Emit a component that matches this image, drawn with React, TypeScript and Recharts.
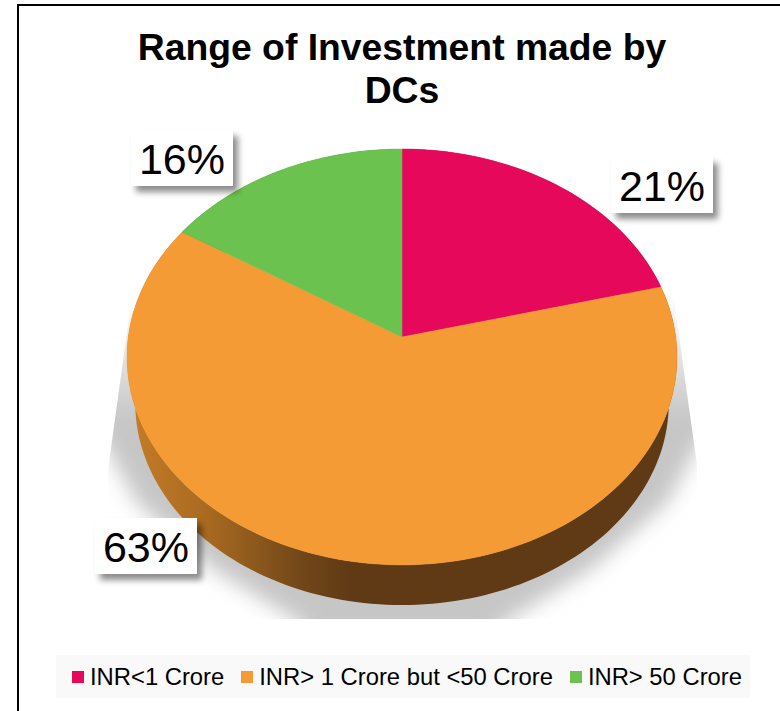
import React from "react";
import {Cell, Legend, Pie, PieChart} from "recharts";

const categories = ["INR<1 Crore", "INR> 1 Crore but <50 Crore", "INR> 50 Crore"];
const shares = [21, 63, 16];
const colors = ["#E6095B", "#F59B35", "#6BC24E"];
const wallColors = ["#8a0537", "url(#wallGradient)", "#40752f"];
// label box centres, placed by hand in the original chart
const labelCentres = [[662, 185], [146, 546], [182, 158]];

const tableData = categories.map((name, i) => ({name, value: shares[i]}));

const WIDTH = 780;
const HEIGHT = 711;
const CX = 402;
const CY = 337;

// tilt projection of the round pie: the centre sits above the middle of the ellipse
const project = (angle: number, scale = 1, dy = 0) => {
  const rad = ((90 - angle) * Math.PI) / 180;
  const X = Math.sin(rad);
  const Y = -Math.cos(rad);
  const w = 1 - 0.096 * Y;
  return [CX + (273.7 * scale * X) / w, CY + dy + (206 * scale * Y) / w];
};

const arcPoints = (start: number, end: number, scale = 1, dy = 0) => {
  const steps = Math.max(2, Math.ceil(Math.abs(end - start) / 1.5));
  const pts: number[][] = [];
  for (let i = 0; i <= steps; i++) {
    pts.push(project(start + ((end - start) * i) / steps, scale, dy));
  }
  return pts;
};

const toPath = (pts: number[][]) =>
  pts.map((p, i) => `${i === 0 ? "M" : "L"}${p[0].toFixed(2)},${p[1].toFixed(2)}`).join(" ") + " Z";

const TopSlice = (props: any) => {
  const pts = [[CX, CY], ...arcPoints(props.startAngle, props.endAngle)];
  return <path d={toPath(pts)} fill={props.fill} stroke={props.fill} strokeWidth={0.5}/>;
};

const WallSlice = (props: any) => {
  const top = arcPoints(props.startAngle, props.endAngle);
  const bottom = arcPoints(props.startAngle, props.endAngle, 0.97, 47).reverse();
  return <path d={toPath([...top, ...bottom])} fill={props.fill}/>;
};

const renderLabel = (props: any) => {
  const [x, y] = labelCentres[props.index];
  return (
    <g>
      <rect x={x - 51} y={y - 28} width={102} height={56} fill="#fff" filter="url(#boxShadow)"/>
      <text x={x} y={y + 16} textAnchor="middle" fontSize={43} fill="#000" fontFamily="Liberation Sans">
        {shares[props.index]}%
      </text>
    </g>
  );
};

const renderLegend = (props: any) => (
  <div style={{
    display: "flex", alignItems: "center", height: 43, paddingLeft: 16, background: "#f9f9f9",
    fontFamily: "Liberation Sans", fontSize: 23.8, color: "#000", whiteSpace: "nowrap",
  }}>
    {(props.payload || []).filter((item: any) => item.type !== "none").map((item: any) => (
      <span key={item.value} style={{display: "flex", alignItems: "center", marginRight: 17}}>
        <span style={{width: 12, height: 12, marginRight: 6, background: item.color}}/>
        {item.value}
      </span>
    ))}
  </div>
);

export default function App() {
  return (
    <div style={{position: "absolute", left: 0, top: 0, width: WIDTH, height: HEIGHT, overflow: "hidden", background: "#fff"}}>
      <PieChart width={WIDTH} height={HEIGHT} margin={{top: 0, right: 0, bottom: 0, left: 0}}>
        <defs>
          <linearGradient id="wallGradient" gradientUnits="userSpaceOnUse" x1={130} y1={0} x2={350} y2={0}>
            <stop offset="0%" stopColor="#c47c28"/>
            <stop offset="35%" stopColor="#a96a20"/>
            <stop offset="75%" stopColor="#754919"/>
            <stop offset="100%" stopColor="#5f3a14"/>
          </linearGradient>
          <linearGradient id="groundFill" gradientUnits="userSpaceOnUse" x1={0} y1={295} x2={0} y2={420}>
            <stop offset="0%" stopColor="#ffffff"/>
            <stop offset="100%" stopColor="#c6c6c6"/>
          </linearGradient>
          <filter id="boxShadow" x="-20%" y="-30%" width="150%" height="170%">
            <feDropShadow dx={5} dy={6} stdDeviation={3} floodColor="#000" floodOpacity={0.45}/>
          </filter>
          <filter id="groundBlur" x="-15%" y="-15%" width="130%" height="130%">
            <feGaussianBlur stdDeviation={10}/>
          </filter>
          <clipPath id="groundClip">
            <polygon points="130,310 108,470 108,619 697,619 697,465 673,293"/>
          </clipPath>
        </defs>
        <rect x={18} y={5} width={900} height={900} fill="none" stroke="#000" strokeWidth={2}/>
        <text x={402} y={60} textAnchor="middle" fontSize={37.3} fontWeight="bold" fontFamily="Liberation Sans">
          Range of Investment made by
        </text>
        <text x={402} y={103} textAnchor="middle" fontSize={37.3} fontWeight="bold" fontFamily="Liberation Sans">
          DCs
        </text>
        <g clipPath="url(#groundClip)">
          <polygon
            points="64,250 740,250 740,400 695,450 688,465 667,503 590,570 500,625 500,650 304,650 304,625 214,570 137,503 116,465 109,450 64,400"
            fill="url(#groundFill)" filter="url(#groundBlur)"/>
        </g>
        <Pie data={tableData} dataKey="value" nameKey="name" cx={CX} cy={CY} outerRadius={228} startAngle={90}
             endAngle={-270} stroke="none" legendType="none" shape={WallSlice} isAnimationActive={false}>
          {tableData.map((entry, i) => <Cell key={`wall-${entry.name}`} fill={wallColors[i]}/>)}
        </Pie>
        <Pie data={tableData} dataKey="value" nameKey="name" cx={CX} cy={CY} outerRadius={228} startAngle={90}
             endAngle={-270} stroke="none" shape={TopSlice} label={renderLabel} labelLine={false}
             isAnimationActive={false}>
          {tableData.map((entry, i) => <Cell key={`top-${entry.name}`} fill={colors[i]}/>)}
        </Pie>
        <Legend content={renderLegend} verticalAlign="top" align="left" layout="horizontal"
                wrapperStyle={{left: 56, top: 655, width: 694, height: 43}}/>
      </PieChart>
    </div>
  );
}
